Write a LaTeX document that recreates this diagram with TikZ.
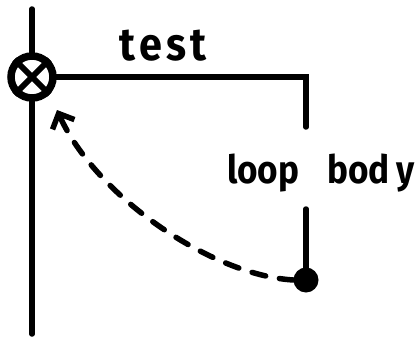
\documentclass[tikz,border=0pt]{standalone}
\usepackage{fontspec}
\newfontfamily\handfont{Fira Sans}[FakeStretch=0.9]
\usetikzlibrary{arrows.meta}

\begin{document}
\begin{tikzpicture}[x=1pt,y=1pt,yscale=-1]
\useasboundingbox (0,0) rectangle (420,337);
\tikzset{
  thick line/.style={line width=5.5pt, line cap=round},
  label text/.style={inner sep=0pt, font=\handfont\fontsize{39}{39}\selectfont\bfseries}
}

% Junction with cross
\node [circle, draw, line width=7.5pt, minimum size=42pt, inner sep=0pt] (junc) at (32,77) {};
\draw [line width=6pt] (junc.north west) -- (junc.south east);
\draw [line width=6pt] (junc.north east) -- (junc.south west);

\coordinate (top) at (32,9);
\coordinate (bottom) at (32,334);
\coordinate (corner) at (306,77);
\coordinate (bodytop) at (306,127);
\coordinate (bodylow) at (306,209);

% Main lines
\draw [thick line] (top) -- (junc.north);
\draw [thick line] (junc.south) -- (bottom);
\draw [thick line] (junc.east) -- (corner) -- (bodytop);

% Dot at the end of the body
\node [circle, fill, minimum size=25pt, inner sep=0pt] (dot) at (306,280) {};
\draw [thick line] (bodylow) -- (dot);

% Text Node
\node [label text, font=\handfont\fontsize{46}{46}\selectfont\bfseries\addfontfeatures{LetterSpace=9}] (test) at (163,46) {test};
% Text Node
\node [label text, anchor=base west] (body) at (227,183) {loop\hspace{28pt}bod\hspace{7pt}y};

% Dashed return arrow
\draw [thick line, dash pattern={on 14pt off 14pt}, -{Straight Barb[length=12pt,width=24pt,line width=5.5pt]}]
  (dot.west) .. controls (210,275) and (95,195) .. (57,110);
\end{tikzpicture}
\end{document}
